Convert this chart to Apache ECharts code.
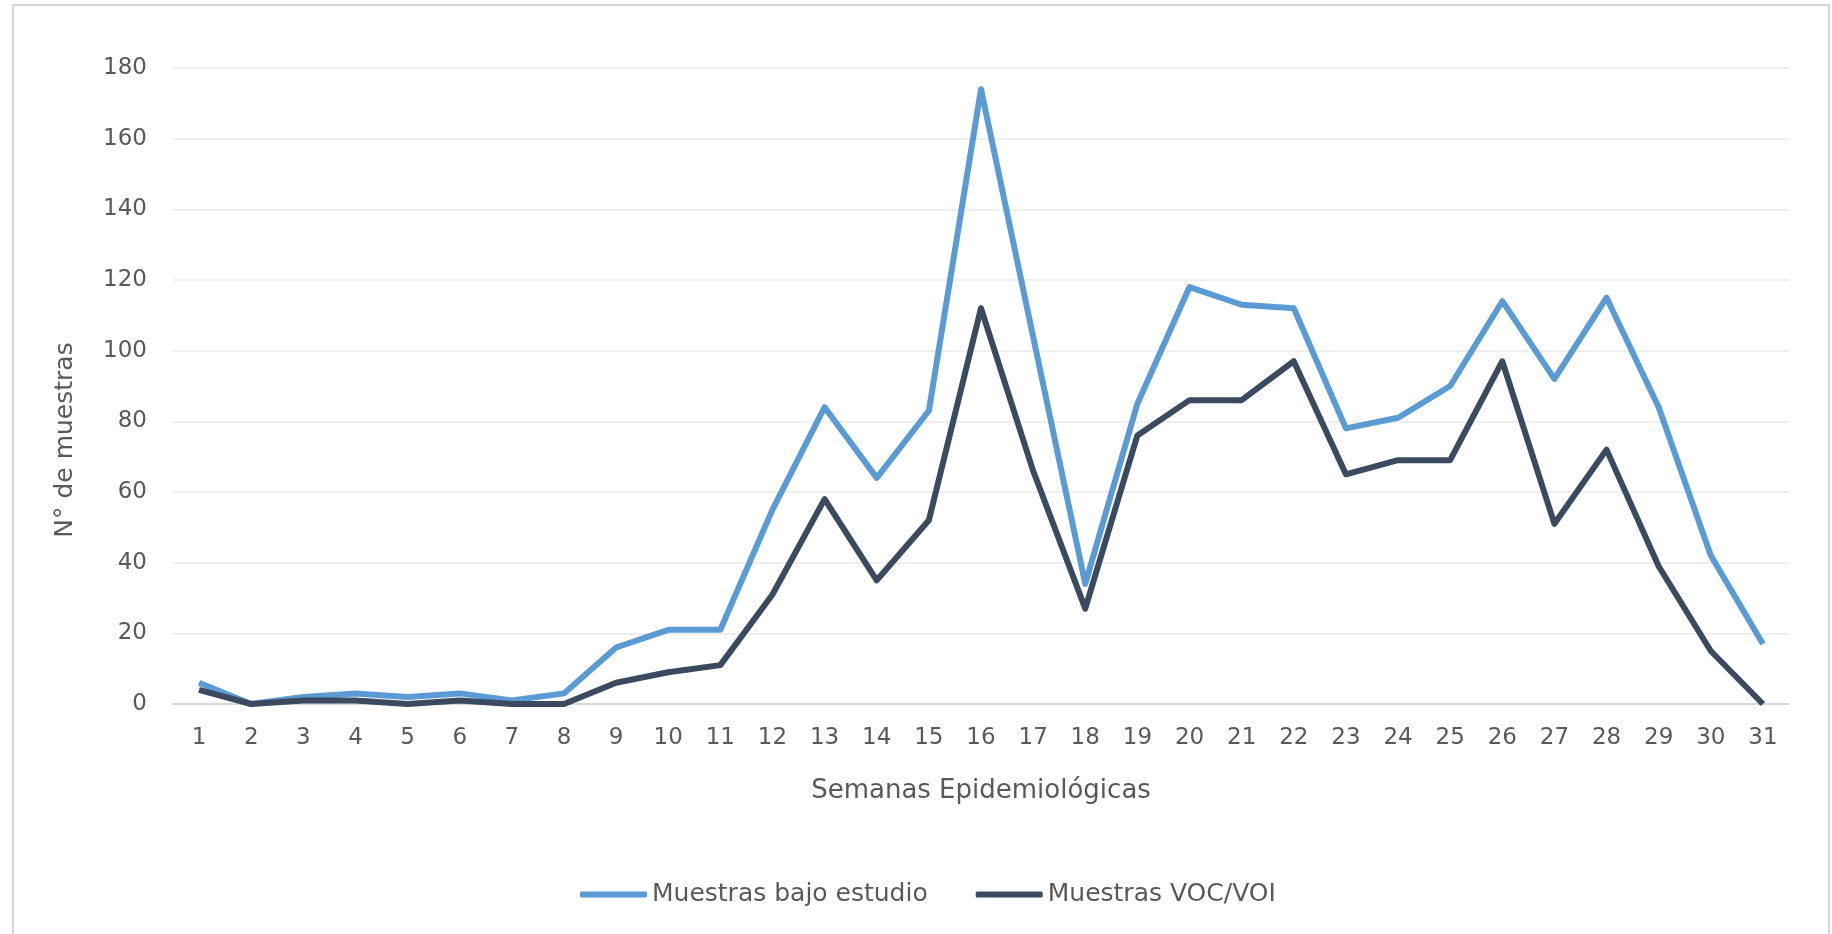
<!DOCTYPE html>
<html>
<head>
<meta charset="utf-8">
<script src="https://cdn.jsdelivr.net/npm/echarts@6/dist/echarts.min.js"></script>
<style>
  html, body { margin: 0; padding: 0; background: #fff; }
  #chart { width: 1832px; height: 934px; }
</style>
</head>
<body>
<div id="chart"></div>
<script>
// semanas epidemiológicas
const semanas = ['1','2','3','4','5','6','7','8','9','10','11','12','13','14','15','16',
  '17','18','19','20','21','22','23','24','25','26','27','28','29','30','31'];

// Muestras bajo estudio
const bajoEstudio = [6, 0, 2, 3, 2, 3, 1, 3, 16, 21, 21, 55, 84, 64, 83, 174,
  104, 34, 85, 118, 113, 112, 78, 81, 90, 114, 92, 115, 84, 42, 17];

// Muestras VOC/VOI
const vocVoi = [4, 0, 1, 1, 0, 1, 0, 0, 6, 9, 11, 31, 58, 35, 52, 112,
  66, 27, 76, 86, 86, 97, 65, 69, 69, 97, 51, 72, 39, 15, 0];

const yTicks = { min: 0, max: 180, interval: 20 };

const font = 'DejaVu Sans';
const chart = echarts.init(document.getElementById('chart'));

chart.setOption({
  backgroundColor: '#fff',
  animation: false,
  // marco gris alrededor del gráfico
  graphic: [{
    type: 'rect',
    shape: { x: 13, y: 5, width: 1816, height: 940 },
    style: { fill: 'none', stroke: '#d6d6d6', lineWidth: 2 },
    silent: true
  }],
  grid: {
    left: 173,
    right: 43,
    top: 68,
    bottom: 230
  },
  legend: {
    left: 575,
    top: 877,
    icon: 'roundRect',
    itemWidth: 67,
    itemHeight: 6,
    itemGap: 48,
    textStyle: { fontFamily: font, fontSize: 25, color: '#595959' },
    data: ['Muestras bajo estudio', 'Muestras VOC/VOI']
  },
  xAxis: {
    type: 'category',
    data: semanas,
    boundaryGap: true,
    name: 'Semanas Epidemiológicas',
    nameLocation: 'middle',
    nameGap: 74,
    nameTextStyle: { fontFamily: font, fontSize: 26, color: '#595959' },
    axisLine: { lineStyle: { color: '#d9d9d9', width: 2 } },
    axisTick: { show: false },
    axisLabel: { fontFamily: font, fontSize: 23, color: '#595959', margin: 23, interval: 0 }
  },
  yAxis: {
    type: 'value',
    min: yTicks.min,
    max: yTicks.max,
    interval: yTicks.interval,
    name: 'N° de muestras',
    nameLocation: 'middle',
    nameGap: 95,
    nameTextStyle: { fontFamily: font, fontSize: 25, color: '#595959', padding: [0, 108, 0, 0] },
    axisLine: { show: false },
    axisTick: { show: false },
    axisLabel: { fontFamily: font, fontSize: 23, color: '#595959', margin: 26 },
    splitLine: { lineStyle: { color: '#efefef', width: 2 } }
  },
  series: [
    {
      name: 'Muestras bajo estudio',
      type: 'line',
      data: bajoEstudio,
      symbol: 'none',
      lineStyle: { color: '#5b9bd5', width: 6, join: 'round' },
      itemStyle: { color: '#5b9bd5' }
    },
    {
      name: 'Muestras VOC/VOI',
      type: 'line',
      data: vocVoi,
      symbol: 'none',
      lineStyle: { color: '#3b4a5f', width: 6, join: 'round' },
      itemStyle: { color: '#3b4a5f' }
    }
  ]
});
</script>
</body>
</html>
